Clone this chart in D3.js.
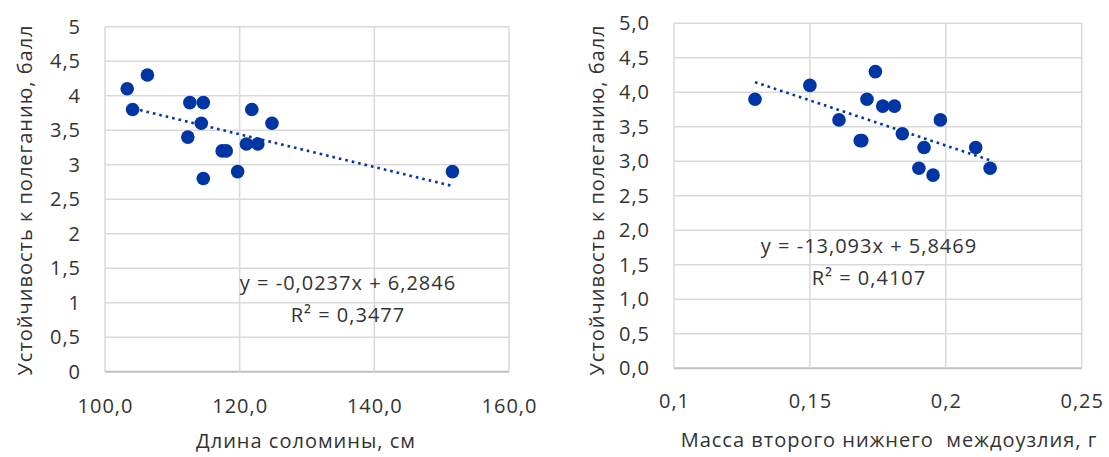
<!DOCTYPE html>
<html>
<head>
<meta charset="utf-8">
<script src="https://cdn.jsdelivr.net/npm/d3@7"></script>
<style>
body { margin: 0; background: #fff; }
svg text { font-family: "Open Sans", sans-serif; fill: #333; font-size: 20px; letter-spacing: 1px; }
</style>
</head>
<body>
<svg id="chart" width="1109" height="457"></svg>
<script>
// left panel: stem length vs lodging resistance
var stemLength = [103.3, 106.3, 104.1, 112.6, 114.6, 114.3, 112.3, 117.4, 118.0, 114.6, 119.7, 121.0, 122.7, 121.8, 124.8, 151.6];
var lodgingA   = [4.1, 4.3, 3.8, 3.9, 3.9, 3.6, 3.4, 3.2, 3.2, 2.8, 2.9, 3.3, 3.3, 3.8, 3.6, 2.9];
var trendA = [-0.0237, 6.2846];   // slope, intercept
var eqA = ["y = -0,0237x + 6,2846", "R² = 0,3477"];
var xTicksA = [100, 120, 140, 160];
var yTicksA = [0, 0.5, 1, 1.5, 2, 2.5, 3, 3.5, 4, 4.5, 5];

// right panel: mass of the second lower internode vs lodging resistance
var internodeMass = [0.1298, 0.150, 0.1741, 0.1710, 0.1768, 0.1811, 0.1607, 0.1691, 0.1685, 0.1840, 0.1920, 0.1980, 0.1901, 0.1953, 0.2110, 0.2163];
var lodgingB      = [3.9, 4.1, 4.3, 3.9, 3.8, 3.8, 3.6, 3.3, 3.3, 3.4, 3.2, 3.6, 2.9, 2.8, 3.2, 2.9];
var trendB = [-13.093, 5.8469];
var eqB = ["y = -13,093x + 5,8469", "R² = 0,4107"];
var xTicksB = [0.1, 0.15, 0.2, 0.25];
var yTicksB = [0, 0.5, 1, 1.5, 2, 2.5, 3, 3.5, 4, 4.5, 5];

var yTitle = "Устойчивость к полеганию, балл";
var xTitleA = "Длина соломины, см";
var xTitleB = "Масса второго нижнего  междоузлия, г";

//russian number format, comma as decimal mark
var ru = d3.formatLocale({decimal: ",", thousands: " ", grouping: [3], currency: ["", ""]});

var svg = d3.select("#chart");
var blue = "#0035a6";

function panel(p) {
	var x = d3.scaleLinear().domain(d3.extent(p.xTicks)).range([p.left, p.right]);
	var y = d3.scaleLinear().domain(d3.extent(p.yTicks)).range([p.bottom, p.top]);
	var g = svg.append("g");

	//grid
	g.selectAll(".hgrid").data(p.yTicks).enter().append("line")
		.attr("x1", p.left).attr("x2", p.right)
		.attr("y1", function(d){ return y(d); }).attr("y2", function(d){ return y(d); })
		.style("stroke", function(d){ return d === 0 ? "#bfbfbf" : "#d9d9d9"; })
		.style("stroke-width", function(d){ return d === 0 ? 2 : 1.5; });
	g.selectAll(".vgrid").data(p.xTicks).enter().append("line")
		.attr("x1", function(d){ return x(d); }).attr("x2", function(d){ return x(d); })
		.attr("y1", p.top).attr("y2", p.bottom)
		.style("stroke", "#d9d9d9")
		.style("stroke-width", 1.5);

	//axes (labels only)
	var ax = g.append("g").attr("transform", "translate(0," + p.bottom + ")")
		.call(d3.axisBottom(x).tickValues(p.xTicks).tickFormat(ru.format(p.xFmt)).tickSize(0).tickPadding(p.xPad));
	var ay = g.append("g").attr("transform", "translate(" + p.left + ",0)")
		.call(d3.axisLeft(y).tickValues(p.yTicks).tickFormat(ru.format(p.yFmt)).tickSize(0).tickPadding(24));
	[ax, ay].forEach(function(a){
		a.select(".domain").remove();
		a.selectAll("text").attr("fill", "#333").attr("font-size", null).attr("font-family", null);
	});

	//trend line over the data range
	var ext = d3.extent(p.xs);
	g.append("line")
		.attr("x1", x(ext[0])).attr("y1", y(p.trend[0] * ext[0] + p.trend[1]))
		.attr("x2", x(ext[1])).attr("y2", y(p.trend[0] * ext[1] + p.trend[1]))
		.style("stroke", blue)
		.style("stroke-width", 2.6)
		.style("stroke-dasharray", "2.6,4");

	//points
	g.selectAll("circle").data(p.xs).enter().append("circle")
		.attr("cx", function(d){ return x(d); })
		.attr("cy", function(d, i){ return y(p.ys[i]); })
		.attr("r", 6.8)
		.style("fill", blue);

	//equation
	g.selectAll(".eq").data(p.eq).enter().append("text")
		.attr("x", p.eqX)
		.attr("y", function(d, i){ return p.eqY + i * 32; })
		.attr("text-anchor", "middle")
		.text(function(d){ return d; });

	//titles
	g.append("text")
		.attr("x", p.xTitleX).attr("y", p.xTitleY)
		.attr("text-anchor", "middle")
		.style("white-space", "pre")
		.text(p.xTitle);
	g.append("text")
		.attr("transform", "translate(" + p.yTitleX + "," + p.yTitleY + ") rotate(-90)")
		.attr("text-anchor", "middle")
		.text(yTitle);
}

panel({left: 105, right: 509, top: 26.7, bottom: 371.7,
	xTicks: xTicksA, yTicks: yTicksA, xFmt: ".1f", yFmt: ".1~f", xPad: 27,
	xs: stemLength, ys: lodgingA, trend: trendA,
	eq: eqA, eqX: 348, eqY: 290,
	xTitle: xTitleA, xTitleX: 306, xTitleY: 448,
	yTitleX: 32, yTitleY: 200});

panel({left: 674, right: 1081.7, top: 23.3, bottom: 368.3,
	xTicks: xTicksB, yTicks: yTicksB, xFmt: ".2~f", yFmt: ".1f", xPad: 26,
	xs: internodeMass, ys: lodgingB, trend: trendB,
	eq: eqB, eqX: 869, eqY: 253,
	xTitle: xTitleB, xTitleX: 889, xTitleY: 447,
	yTitleX: 604, yTitleY: 200});
</script>
</body>
</html>
